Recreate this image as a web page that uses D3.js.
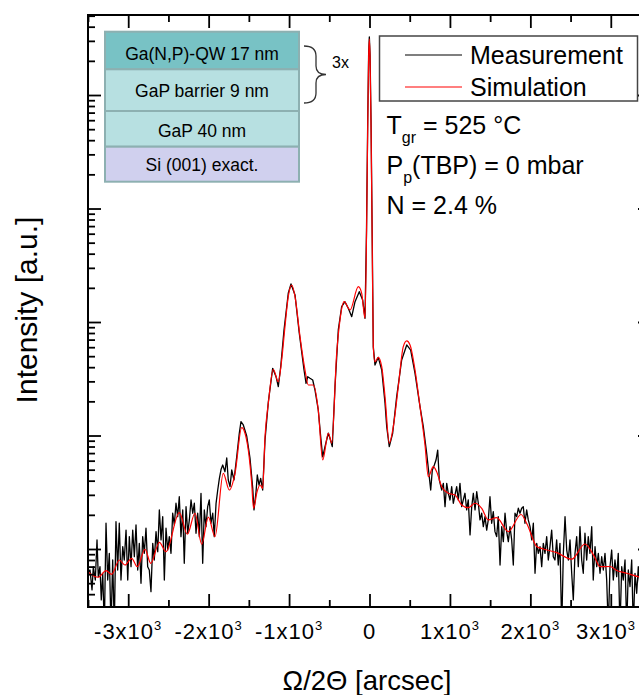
<!DOCTYPE html>
<html><head><meta charset="utf-8">
<script src="https://cdn.jsdelivr.net/npm/d3@7"></script>
<style>
body{margin:0;background:#fff}
svg{display:block}
text{font-family:"Liberation Sans",Arial,Helvetica,sans-serif;fill:#000}
</style>
</head><body>
<svg id="chart" width="639" height="695"></svg>
<script>
// ---------------- data ----------------
const xMajorTicks = [-3000,-2000,-1000,0,1000,2000,3000];
const xTickMantissa = ["-3x10","-2x10","-1x10","0","1x10","2x10","3x10"];
const xTickExponent = ["3","3","3","","3","3","3"];
const yDecades = [10,100,1000,10000,100000];

// measurement: Omega/2Theta position [arcsec] and log10(intensity)
const measX = [-3500,-3475,-3450,-3434,-3409,-3388,-3372,-3351,-3335,-3317,-3297,-3276,-3255,-3235,-3214,-3193,-3173,-3152,-3131,-3111,-3090,-3068,-3049,-3027,-3006,-2986,-2965,-2944,-2924,-2903,-2882,-2862,-2841,-2820,-2800,-2779,-2758,-2738,-2717,-2695,-2676,-2654,-2633,-2613,-2592,-2571,-2551,-2530,-2509,-2489,-2468,-2447,-2427,-2406,-2385,-2365,-2344,-2322,-2303,-2281,-2260,-2240,-2219,-2198,-2178,-2157,-2136,-2116,-2095,-2074,-2054,-2033,-2012,-1992,-1971,-1949,-1930,-1908,-1887,-1867,-1846,
-1825,-1797,-1775,-1756,-1734,-1713,-1685,-1651,-1619,-1598,-1569,-1527,-1486,-1452,-1436,-1411,-1395,-1374,-1353,-1328,-1299,-1258,-1204,-1162,-1134,-1104,-1063,-1010,-976,-926,-873,-814,-789,-768,-740,-706,-678,-637,-607,-582,-553,-512,-491,-463,-429,-388,-346,-305,-264,-221,-180,-127,-85,-56,-37,-22,-11,-2,7,19,34,47,68,109,152,193,214,246,288,338,400,463,512,566,628,669,711,743,761,781,806,827,848,868,
898,918,939,960,980,1001,1022,1042,1063,1084,1104,1125,1146,1166,1187,1208,1228,1250,1271,1291,1312,1333,1353,1374,1395,1415,1436,1457,1477,1498,1519,1539,1560,1581,1601,1623,1644,1664,1685,1706,1726,1747,1768,1788,1809,1830,1850,1871,1892,1912,1933,1954,1974,1996,2017,2037,2058,2079,2099,2120,2141,2161,2182,2203,2223,2244,2265,2285,2306,2327,2347,2368,2390,2410,2431,2452,2472,2493,2514,2534,2555,2576,2596,2617,2638,2658,2679,2700,2720,2741,2763,2782,2804,2825,2845,2866,2887,2907,2928,2949,2969,2990,3011,3031,3052,3073,3093,3114,3136,3155,3177,3198,3218,3239,3260,3280,3301,3322,3342,3376,3400];
const measLogI = [0.79,0.815,0.64,0.844,0.727,1.08,0.756,0.844,0.551,0.786,0.30,1.227,0.727,0.962,0.30,0.903,0.30,1.241,0.815,1.227,0.727,1.021,0.903,1.167,0.727,1.109,0.844,1.167,0.932,1.212,0.815,1.05,0.698,1.109,0.962,1.183,0.844,0.815,0.624,1.05,0.903,1.153,0.976,1.344,1.08,1.285,0.727,1.183,0.991,1.109,0.962,1.315,1.212,1.403,1.285,1.461,1.109,1.344,0.874,1.373,1.139,1.256,1.432,1.315,1.403,1.139,1.315,1.109,1.491,0.874,1.344,1.197,1.373,1.432,1.227,1.315,1.109,1.40,1.52,1.62,1.70,
1.74,1.681,1.802,1.608,1.549,1.696,1.608,1.813,2.02,2.122,2.093,1.996,1.802,1.538,1.344,1.502,1.652,1.564,1.623,1.52,1.96,2.295,2.592,2.518,2.43,2.606,2.93,3.253,3.335,3.238,2.901,2.577,2.46,2.518,2.504,2.489,2.401,2.225,1.99,1.813,1.902,2.02,1.976,1.902,2.43,2.93,3.135,3.179,3.121,3.047,3.179,3.267,3.194,3.033,3.811,4.78,5.352,5.511,5.352,4.78,3.723,2.783,2.621,2.689,2.577,2.284,2.078,1.902,2.02,2.342,2.665,2.798,2.753,2.548,2.254,2.078,1.843,1.637,1.52,1.696,1.74,1.784,1.872,1.608,
1.52,1.579,1.373,1.579,1.491,1.432,1.549,1.403,1.476,1.549,1.432,1.579,1.373,1.432,1.491,1.344,1.432,1.124,1.373,1.491,1.344,1.505,1.403,1.256,1.315,1.197,1.285,1.167,1.256,1.461,1.227,1.329,1.153,1.109,1.285,0.859,1.197,1.065,1.315,1.153,1.065,1.197,1.08,0.859,1.315,1.285,1.359,1.315,1.359,1.373,1.227,1.344,1.256,1.197,1.08,1.227,0.786,1.05,0.962,1.021,0.844,1.05,0.962,1.109,0.903,1.021,1.167,0.932,0.903,1.08,0.859,1.05,0.30,0.962,1.285,0.991,0.903,1.08,0.786,0.551,0.962,1.109,0.844,1.197,0.903,0.786,1.139,0.903,1.109,0.962,1.197,0.727,1.021,0.844,0.962,0.786,0.932,0.815,0.962,0.727,0.30,0.844,0.991,0.727,0.903,0.756,0.962,0.30,0.844,0.727,0.903,0.30,0.815,0.669,0.903,0.30,0.786,0.61,0.844,0.551,0.727];

// simulation
const simX = [-3500,-3372,-3276,-3205,-3111,-3040,-2957,-2887,-2791,-2720,-2613,-2530,-2365,-2265,-2170,-2086,-2004,-1921,-1818,-1743,-1672,-1589,-1548,-1507,-1465,-1442,-1399,-1361,-1328,-1299,-1258,-1196,-1134,-1092,-1051,-1010,-967,-926,-864,-802,-761,-699,-637,-582,-512,-470,-408,-367,-317,-242,-139,-97,-56,-37,-22,-11,-2,7,19,34,47,68,109,152,193,246,296,358,420,463,504,566,628,690,731,793,835,898,980,1063,1146,1228,1312,1395,1477,1581,1726,1884,1958,2079,2161,2327,2514,2679,2791,2866,2990,3073,3198,3351,3500];
const simLogI = [0.798,0.751,0.809,0.777,0.903,0.859,0.918,0.844,0.998,0.874,1.059,0.976,1.32,1.13,1.315,1.042,1.28,1.109,1.667,1.52,1.667,2.069,2.02,1.872,1.582,1.359,1.502,1.564,1.535,1.99,2.284,2.583,2.474,2.665,2.959,3.223,3.326,3.223,2.871,2.577,2.445,2.445,2.225,1.784,2.02,1.932,2.724,3.018,3.179,3.106,3.311,3.253,3.033,3.767,4.736,5.326,5.493,5.326,4.736,3.679,2.783,2.65,2.689,2.606,2.342,1.932,2.078,2.43,2.783,2.833,2.798,2.577,2.254,1.917,1.637,1.725,1.681,1.549,1.491,1.476,1.388,1.364,1.403,1.359,1.256,1.276,1.153,1.304,1.221,1.022,1.0,0.968,0.91,1.044,0.939,0.844,0.846,0.811,0.786,0.754,0.74];

const seriesNames = ["Measurement","Simulation"];
const seriesColors = ["#000000","#ff0000"];
const layerLabels = ["Ga(N,P)-QW 17 nm","GaP barrier 9 nm","GaP 40 nm","Si (001) exact."];
const layerColors = ["#78c2c5","#b7e0e1","#b7e0e1","#d0d0ee"];
const annotation = {tgr:"525 °C", pp:"0 mbar", n:"2.4 %"};

// ---------------- layout ----------------
const svg = d3.select("#chart");
svg.append("rect").attr("width",639).attr("height",695).attr("fill","#fff");
const L = 88, R = 651, T = 15, B = 607;

const x = d3.scaleLinear().domain([-3500,3500]).range([L,R]);
const y = d3.scaleLog().domain([Math.pow(10,0.489), Math.pow(10,5.705)]).range([B,T]);

const meas = measX.map((v,i)=>({x:v, y:Math.pow(10,measLogI[i])}));
const sim = simX.map((v,i)=>({x:v, y:Math.pow(10,simLogI[i])}));

svg.append("clipPath").attr("id","clip").append("rect")
  .attr("x",L).attr("y",T).attr("width",R-L).attr("height",B-T);

const plot = svg.append("g").attr("clip-path","url(#clip)");
plot.append("path").datum(meas)
  .attr("fill","none").attr("stroke",seriesColors[0]).attr("stroke-width",1.3)
  .attr("stroke-linejoin","round")
  .attr("d", d3.line().x(d=>x(d.x)).y(d=>y(d.y)));
plot.append("path").datum(sim)
  .attr("fill","none").attr("stroke",seriesColors[1]).attr("stroke-width",1.2)
  .attr("d", d3.line().x(d=>x(d.x)).y(d=>y(d.y)).curve(d3.curveMonotoneX));

// minor ticks
const xMinor = d3.range(-3500,3501,500).filter(v=>v%1000!==0);
const yMinor = [];
[1,10,100,1000,10000,100000].forEach(dec=>{for(let m=2;m<=9;m++){const v=m*dec; if(v>=y.domain()[0] && v<=y.domain()[1]) yMinor.push(v);}});

function styleAxis(g){
  g.select(".domain").remove();
  g.selectAll(".tick line").attr("stroke","#000").attr("stroke-width",1.8);
  g.selectAll(".tick text").remove();
}
svg.append("g").attr("transform",`translate(0,${B})`).call(d3.axisBottom(x).tickValues(xMajorTicks).tickSize(-13)).call(styleAxis);
svg.append("g").attr("transform",`translate(0,${B})`).call(d3.axisBottom(x).tickValues(xMinor).tickSize(-7)).call(styleAxis);
svg.append("g").attr("transform",`translate(0,${T})`).call(d3.axisTop(x).tickValues(xMajorTicks).tickSize(-13)).call(styleAxis);
svg.append("g").attr("transform",`translate(0,${T})`).call(d3.axisTop(x).tickValues(xMinor).tickSize(-7)).call(styleAxis);
svg.append("g").attr("transform",`translate(${L},0)`).call(d3.axisLeft(y).tickValues(yDecades).tickSize(-13)).call(styleAxis);
svg.append("g").attr("transform",`translate(${L},0)`).call(d3.axisLeft(y).tickValues(yMinor).tickSize(-7)).call(styleAxis);
svg.append("g").attr("transform",`translate(${R},0)`).call(d3.axisRight(y).tickValues(yDecades).tickSize(-13)).call(styleAxis);
svg.append("g").attr("transform",`translate(${R},0)`).call(d3.axisRight(y).tickValues(yMinor).tickSize(-7)).call(styleAxis);

// frame
svg.append("rect").attr("x",L).attr("y",T).attr("width",R-L).attr("height",B-T)
  .attr("fill","none").attr("stroke","#000").attr("stroke-width",2);

// x tick labels (last one nudged so that it stays inside the page)
xMajorTicks.forEach((v,i)=>{
  const t = svg.append("text").attr("x",Math.min(x(v), 606)).attr("y",638.5).attr("text-anchor","middle")
    .attr("font-size",22).attr("letter-spacing",1.0);
  t.append("tspan").text(xTickMantissa[i]);
  if(xTickExponent[i]) t.append("tspan").attr("font-size",13).attr("dy",-9).text(xTickExponent[i]);
});

// axis titles
svg.append("text").attr("x",367).attr("y",690).attr("text-anchor","middle").attr("font-size",27.5)
  .text("Ω/2Θ [arcsec]");
svg.append("text").attr("transform","translate(37,310) rotate(-90)").attr("text-anchor","middle")
  .attr("font-size",30).text("Intensity [a.u.]");

// legend
const lg = svg.append("g");
lg.append("rect").attr("x",379.5).attr("y",36).attr("width",258).attr("height",65)
  .attr("fill","#fff").attr("stroke","#444").attr("stroke-width",1.5);
[55,87].forEach((ly,i)=>{
  lg.append("line").attr("x1",405).attr("x2",462).attr("y1",ly).attr("y2",ly)
    .attr("stroke",seriesColors[i]).attr("stroke-width",1.2);
  lg.append("text").attr("x",470).attr("y",ly+8.5).attr("font-size",25).text(seriesNames[i]);
});

// annotation text
const a1 = svg.append("text").attr("x",386.5).attr("y",133.5).attr("font-size",25);
a1.append("tspan").text("T");
a1.append("tspan").attr("font-size",16).attr("dy",9).text("gr");
a1.append("tspan").attr("dy",-9).text(" = " + annotation.tgr);
const a2 = svg.append("text").attr("x",386.5).attr("y",174).attr("font-size",25);
a2.append("tspan").text("P");
a2.append("tspan").attr("font-size",16).attr("dy",9).text("p");
a2.append("tspan").attr("dy",-9).text("(TBP) = " + annotation.pp);
svg.append("text").attr("x",386.5).attr("y",213.5).attr("font-size",25).text("N = " + annotation.n);

// layer stack
const rowTops = [31.7,69.3,111,146.7,181.7];
const baselines = [60,96.7,136.7,170.7];
const st = svg.append("g");
layerLabels.forEach((lab,i)=>{
  st.append("rect").attr("x",105).attr("y",rowTops[i]).attr("width",194).attr("height",rowTops[i+1]-rowTops[i])
    .attr("fill",layerColors[i]).attr("stroke","#8db0b1").attr("stroke-width",2);
  st.append("text").attr("x",202).attr("y",baselines[i]).attr("text-anchor","middle")
    .attr("font-size",17.5).attr("fill","#111").text(lab);
});
// brace + 3x
st.append("path").attr("d","M304,46 Q316,46 316,56 L316,66 Q316,74.5 326,74.5 Q316,74.5 316,83 L316,93 Q316,103 304,103")
  .attr("fill","none").attr("stroke","#333").attr("stroke-width",1.3);
st.append("text").attr("x",332).attr("y",68.3).attr("font-size",16).text("3x");
</script>
</body></html>
